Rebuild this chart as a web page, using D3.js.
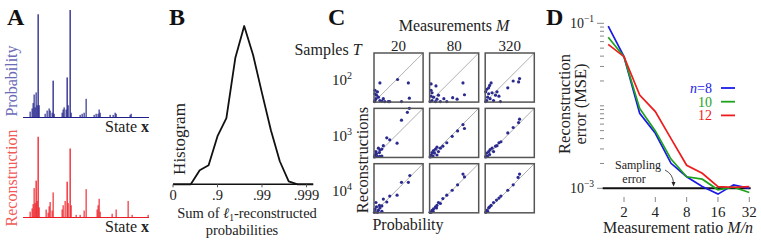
<!DOCTYPE html>
<html>
<head>
<meta charset="utf-8">
<script src="https://cdn.jsdelivr.net/npm/d3@7"></script>
<style>
  body { margin: 0; background: #fff; }
  svg { display: block; }
</style>
</head>
<body>
<div id="chart"></div>
<script>
// ---- data ----
// panel A: state index -> probability (scaled so the top peak is 1)
var probStates = [7, 9, 10, 11, 12, 13, 14, 15, 16, 22, 24, 26, 27, 29, 30, 31, 39, 40, 41, 43, 44, 45, 47, 48, 57, 59, 61, 63, 71, 73, 75, 76, 77, 87, 90, 92, 93, 107, 108];
var probValues = [0.05, 0.08, 0.13, 0.21, 0.09, 0.23, 0.11, 0.96, 0.11, 0.03, 0.06, 0.08, 0.06, 0.04, 0.34, 0.03, 0.04, 0.07, 0.09, 0.07, 0.37, 0.11, 1.00, 0.04, 0.02, 0.03, 0.04, 0.17, 0.02, 0.03, 0.03, 0.07, 0.04, 0.02, 0.02, 0.04, 0.03, 0.02, 0.03];
var reconStates = [7, 9, 10, 11, 12, 13, 14, 15, 16, 23, 25, 26, 27, 29, 30, 39, 40, 42, 44, 45, 47, 48, 53, 57, 61, 63, 74, 75, 76, 77, 89, 93, 105, 109, 125];
var reconValues = [0.05, 0.08, 0.12, 0.27, 0.13, 0.34, 0.15, 0.75, 0.09, 0.07, 0.04, 0.10, 0.14, 0.06, 0.23, 0.07, 0.11, 0.15, 0.33, 0.13, 0.64, 0.11, 0.02, 0.02, 0.06, 0.26, 0.07, 0.11, 0.17, 0.05, 0.03, 0.07, 0.15, 0.02, 0.02];

// panel B: histogram of the sum, x in "number of nines"
var histK = [0, 0.4, 0.6, 0.8, 1.0, 1.2, 1.4, 1.6, 1.8, 2.0, 2.2, 2.4, 2.6, 2.8, 3.0, 3.15];
var histCounts = [0, 0, 14, 19, 48, 66, 126, 158, 129, 91, 54, 23, 3, 0, 0, 0];
var histTicks = [0, 1, 2, 3];
var histTickLabels = ["0", ".9", ".99", ".999"];

// panel C: scatter [probability, reconstruction] for each (T, M)
var measurements = ["20", "80", "320"];
var samplesExp = ["2", "3", "4"];
var sc_T2_M20 = [[0.12,0.39],[0.48,0.46],[0.70,0.39],[0.72,0.08],[0.56,0.01],[0.19,0.07],[0.29,0.01],[0.32,0.01],[0.02,0.24],[0.02,0.17],[0.05,0.14],[0.09,0.10],[0.04,0.07],[0.12,0.03],[0.02,0.03],[0.07,0.21],[0.22,0.01],[0.16,0.02],[0.01,0.01]];
var sc_T2_M80 = [[0.68,0.39],[0.71,0.15],[0.47,0.09],[0.56,0.06],[0.29,0.07],[0.13,0.33],[0.03,0.37],[0.03,0.24],[0.05,0.19],[0.03,0.12],[0.08,0.10],[0.15,0.06],[0.18,0.14],[0.22,0.01],[0.05,0.03],[0.12,0.01],[0.35,0.01],[0.01,0.01]];
var sc_T2_M320 = [[0.70,0.48],[0.68,0.41],[0.57,0.43],[0.46,0.29],[0.12,0.39],[0.09,0.34],[0.07,0.29],[0.03,0.26],[0.01,0.21],[0.07,0.17],[0.14,0.19],[0.21,0.14],[0.28,0.12],[0.05,0.10],[0.10,0.07],[0.31,0.01],[0.03,0.03],[0.17,0.03],[0.24,0.21],[0.01,0.01]];
var sc_T3_M20 = [[0.72,1.00],[0.68,0.92],[0.56,0.76],[0.47,0.29],[0.32,0.36],[0.26,0.40],[0.19,0.24],[0.16,0.17],[0.12,0.15],[0.11,0.10],[0.16,0.03],[0.05,0.08],[0.02,0.05],[0.07,0.02],[0.01,0.01],[0.12,0.02],[0.04,0.12],[0.09,0.19]];
var sc_T3_M80 = [[0.68,0.67],[0.71,0.59],[0.57,0.54],[0.46,0.43],[0.27,0.23],[0.22,0.19],[0.15,0.21],[0.12,0.17],[0.08,0.14],[0.05,0.10],[0.03,0.05],[0.07,0.03],[0.01,0.01],[0.10,0.09],[0.18,0.12],[0.15,0.05],[0.35,0.30]];
var sc_T3_M320 = [[0.70,0.78],[0.68,0.71],[0.57,0.61],[0.46,0.50],[0.28,0.30],[0.21,0.23],[0.14,0.19],[0.10,0.16],[0.07,0.12],[0.03,0.09],[0.02,0.03],[0.05,0.02],[0.09,0.06],[0.17,0.12],[0.24,0.24],[0.32,0.32],[0.01,0.01]];
var sc_T4_M20 = [[0.73,0.76],[0.70,0.62],[0.56,0.62],[0.47,0.36],[0.32,0.34],[0.26,0.22],[0.19,0.28],[0.16,0.14],[0.12,0.10],[0.05,0.12],[0.04,0.21],[0.02,0.07],[0.09,0.05],[0.16,0.03],[0.01,0.01],[0.07,0.01],[0.11,0.15]];
var sc_T4_M80 = [[0.68,0.79],[0.71,0.73],[0.57,0.57],[0.46,0.46],[0.27,0.29],[0.18,0.21],[0.15,0.15],[0.12,0.12],[0.08,0.08],[0.05,0.05],[0.03,0.01],[0.07,0.03],[0.14,0.10],[0.22,0.19],[0.35,0.36],[0.01,0.01]];
var sc_T4_M320 = [[0.70,0.79],[0.67,0.72],[0.57,0.57],[0.46,0.46],[0.28,0.30],[0.23,0.26],[0.17,0.21],[0.12,0.15],[0.07,0.10],[0.03,0.05],[0.01,0.01],[0.09,0.12],[0.32,0.34],[0.05,0.03]];
var scatterGrid = [
  [sc_T2_M20, sc_T2_M80, sc_T2_M320],
  [sc_T3_M20, sc_T3_M80, sc_T3_M320],
  [sc_T4_M20, sc_T4_M80, sc_T4_M320]
];

// panel D: reconstruction error vs measurement ratio
var ratios = [1.41, 2, 2.83, 4, 5.66, 8, 11.3, 16, 22.6, 32];
var mse_n8  = [0.0927, 0.0394, 0.0081, 0.00465, 0.00201, 0.00138, 0.00105, 0.00085, 0.00110, 0.00100];
var mse_n10 = [0.0677, 0.0394, 0.0093, 0.00496, 0.00226, 0.00138, 0.00129, 0.00096, 0.00103, 0.00089];
var mse_n12 = [0.0555, 0.0394, 0.0135, 0.0085, 0.0040, 0.0019, 0.00152, 0.00105, 0.00103, 0.00105];
var seriesNames = ["8", "10", "12"];
var seriesColors = ["#1a1ae6", "#1ea31e", "#ee1c1c"];
var samplingError = 0.001;
var ratioTicks = [2, 4, 8, 16, 32];

// ---- svg ----
var svg = d3.select("#chart").append("svg")
  .attr("width", 761)
  .attr("height", 241)
  .attr("font-family", "'Liberation Serif', 'DejaVu Serif', serif")
  .attr("fill", "#222");

function panelLetter(t, x, y) {
  svg.append("text").attr("x", x).attr("y", y)
    .attr("font-size", 24).attr("font-weight", "bold").attr("fill", "#111")
    .text(t);
}
panelLetter("A", 7, 25);
panelLetter("B", 169, 25);
panelLetter("C", 328, 25);
panelLetter("D", 546, 25);

// ---- A ----
var xA = d3.scaleLinear().domain([0, 126]).range([23, 149]);

function stateBars(states, values, base, color, label, labelColor, labelY) {
  var y = d3.scaleLinear().domain([0, 1]).range([base, base - 107]);
  var g = svg.append("g");
  g.append("line")
    .attr("x1", xA(0)).attr("x2", xA(126))
    .attr("y1", base + 0.5).attr("y2", base + 0.5)
    .attr("stroke", color).attr("stroke-width", 1.2);
  g.selectAll("rect")
    .data(values)
    .enter()
    .append("rect")
      .attr("x", function(d, i) { return xA(states[i]) - 0.5; })
      .attr("y", function(d) { return y(d); })
      .attr("width", 1.3)
      .attr("height", function(d) { return base - y(d); })
      .attr("fill", color)
      .attr("opacity", function(d) { return d > 0.3 ? 1 : 0.85; });
  g.append("text")
    .attr("transform", "translate(17," + labelY + ") rotate(-90)")
    .attr("text-anchor", "middle")
    .attr("font-size", 16).attr("fill", labelColor)
    .text(label);
  var st = g.append("text").attr("x", 149).attr("y", base + 15)
    .attr("text-anchor", "end").attr("font-size", 16);
  st.append("tspan").text("State ");
  st.append("tspan").attr("font-weight", "bold").text("x");
}
stateBars(probStates, probValues, 117, "#20208a", "Probability", "#6b6bb8", 81);
stateBars(reconStates, reconValues, 217, "#ec1c24", "Reconstruction", "#f05a5a", 178);

// ---- B ----
var xB = d3.scaleLinear().domain([0, 3]).range([173, 306.5]);
var yB = d3.scaleLinear().domain([0, 158]).range([184.3, 26]);

svg.append("line")
  .attr("x1", xB(0)).attr("x2", xB(3.15))
  .attr("y1", yB(0)).attr("y2", yB(0))
  .attr("stroke", "#111").attr("stroke-width", 1.6);

svg.append("path")
  .datum(histCounts)
  .attr("fill", "none").attr("stroke", "#111").attr("stroke-width", 1.8)
  .attr("stroke-linejoin", "round")
  .attr("d", d3.line()
    .x(function(d, i) { return xB(histK[i]); })
    .y(function(d) { return yB(d); }));

svg.selectAll(".btick")
  .data(histTicks)
  .enter()
  .append("line")
    .attr("x1", function(d) { return xB(d); })
    .attr("x2", function(d) { return xB(d); })
    .attr("y1", yB(0)).attr("y2", yB(0) + 3)
    .attr("stroke", "#555").attr("stroke-width", 1);

svg.selectAll(".blabel")
  .data(histTicks)
  .enter()
  .append("text")
    .attr("x", function(d) { return xB(d); })
    .attr("y", 200)
    .attr("text-anchor", "middle")
    .attr("font-size", 14.5)
    .text(function(d, i) { return histTickLabels[i]; });

svg.append("text")
  .attr("transform", "translate(185,139) rotate(-90)")
  .attr("text-anchor", "middle").attr("font-size", 17)
  .text("Histogram");

var sumLabel = svg.append("text").attr("x", 247).attr("y", 217.5)
  .attr("text-anchor", "middle").attr("font-size", 14.5);
sumLabel.append("tspan").text("Sum of ");
sumLabel.append("tspan").attr("font-style", "italic").text("ℓ");
sumLabel.append("tspan").attr("dy", 3).attr("font-size", 9.5).text("1");
sumLabel.append("tspan").attr("dy", -3).text("-reconstructed");
svg.append("text").attr("x", 242).attr("y", 234.5)
  .attr("text-anchor", "middle").attr("font-size", 14.5)
  .text("probabilities");

// ---- C ----
var colBand = d3.scaleBand().domain(measurements).range([374, 534.3]).paddingInner(0.117);
var rowBand = d3.scaleBand().domain(samplesExp).range([53, 212.6]).paddingInner(0.117);
var unit = d3.scaleLinear().domain([0, 1]).range([0, colBand.bandwidth()]);

scatterGrid.forEach(function(row, r) {
  row.forEach(function(pts, c) {
    var bx = colBand(measurements[c]), by = rowBand(samplesExp[r]);
    var s = colBand.bandwidth();
    var g = svg.append("g").attr("transform", "translate(" + bx + "," + by + ")");
    g.append("line")
      .attr("x1", unit(0)).attr("y1", s - unit(0))
      .attr("x2", unit(1)).attr("y2", s - unit(1))
      .attr("stroke", "#9a9a9a").attr("stroke-width", 0.8);
    g.selectAll("circle")
      .data(pts)
      .enter()
      .append("circle")
        .attr("cx", function(d) { return unit(d[0]); })
        .attr("cy", function(d) { return s - unit(d[1]); })
        .attr("r", 1.6)
        .attr("fill", "#2b2b8f");
    g.append("rect")
      .attr("width", s).attr("height", s)
      .attr("fill", "none").attr("stroke", "#555").attr("stroke-width", 1.5);
  });
});

var mTitle = svg.append("text").attr("x", 454).attr("y", 31)
  .attr("text-anchor", "middle").attr("font-size", 16);
mTitle.append("tspan").text("Measurements ");
mTitle.append("tspan").attr("font-style", "italic").text("M");

svg.selectAll(".mlabel")
  .data(measurements)
  .enter()
  .append("text")
    .attr("x", function(d) { return colBand(d) + colBand.bandwidth() / 2; })
    .attr("y", 51)
    .attr("text-anchor", "middle").attr("font-size", 15)
    .text(function(d) { return d; });

var tTitle = svg.append("text").attr("x", 328).attr("y", 55)
  .attr("text-anchor", "middle").attr("font-size", 16);
tTitle.append("tspan").text("Samples ");
tTitle.append("tspan").attr("font-style", "italic").text("T");

samplesExp.forEach(function(e) {
  var t = svg.append("text")
    .attr("x", 352).attr("y", rowBand(e) + rowBand.bandwidth() / 2 + 8)
    .attr("text-anchor", "end").attr("font-size", 15);
  t.append("tspan").text("10");
  t.append("tspan").attr("dy", -6).attr("font-size", 10).text(e);
});

svg.append("text")
  .attr("transform", "translate(368,160) rotate(-90)")
  .attr("text-anchor", "middle").attr("font-size", 16.5)
  .text("Reconstructions");
svg.append("text").attr("x", 408).attr("y", 230)
  .attr("text-anchor", "middle").attr("font-size", 16)
  .text("Probability");

// ---- D ----
var xD = d3.scaleLog().base(2).domain([2, 32]).range([624, 749.3]);
var yD = d3.scaleLog().domain([0.001, 0.1]).range([188.3, 23.3]);

var yTicks = yD.ticks();
svg.selectAll(".dytick")
  .data(yTicks)
  .enter()
  .append("line")
    .attr("x1", function(d) { return (d === 0.1 || d === 0.001) ? 597 : 600; })
    .attr("x2", 604)
    .attr("y1", function(d) { return yD(d); })
    .attr("y2", function(d) { return yD(d); })
    .attr("stroke", "#888").attr("stroke-width", 1);

[["-1", 0.1], ["-3", 0.001]].forEach(function(p) {
  var t = svg.append("text").attr("x", 594).attr("y", yD(p[1]) + 5)
    .attr("text-anchor", "end").attr("font-size", 14);
  t.append("tspan").text("10");
  t.append("tspan").attr("dy", -6).attr("font-size", 9.5).text(p[0].replace("-", "\u2212"));
});

svg.selectAll(".dxtick")
  .data(ratioTicks)
  .enter()
  .append("line")
    .attr("x1", function(d) { return xD(d); })
    .attr("x2", function(d) { return xD(d); })
    .attr("y1", 197).attr("y2", 202)
    .attr("stroke", "#888").attr("stroke-width", 1);
svg.selectAll(".dxlabel")
  .data(ratioTicks)
  .enter()
  .append("text")
    .attr("x", function(d) { return xD(d); })
    .attr("y", 217)
    .attr("text-anchor", "middle").attr("font-size", 15)
    .text(function(d) { return d; });

var mnLabel = svg.append("text").attr("x", 678).attr("y", 233)
  .attr("text-anchor", "middle").attr("font-size", 16);
mnLabel.append("tspan").text("Measurement ratio ");
mnLabel.append("tspan").attr("font-style", "italic").text("M/n");

svg.append("text")
  .attr("transform", "translate(570,104) rotate(-90)")
  .attr("text-anchor", "middle").attr("font-size", 16.5)
  .text("Reconstruction");
svg.append("text")
  .attr("transform", "translate(586,104) rotate(-90)")
  .attr("text-anchor", "middle").attr("font-size", 16.5)
  .text("error (MSE)");

// sampling error line
svg.append("line")
  .attr("x1", 602.7).attr("x2", xD(33))
  .attr("y1", yD(samplingError)).attr("y2", yD(samplingError))
  .attr("stroke", "#111").attr("stroke-width", 2);

var mseLine = d3.line()
  .x(function(d, i) { return xD(ratios[i]); })
  .y(function(d) { return yD(d); });

[mse_n8, mse_n10, mse_n12].forEach(function(s, i) {
  svg.append("path")
    .datum(s)
    .attr("fill", "none")
    .attr("stroke", seriesColors[i])
    .attr("stroke-width", 1.7)
    .attr("d", mseLine);
});

// legend
seriesNames.forEach(function(n, i) {
  var y = 88 + i * 13.7;
  var t = svg.append("text").attr("x", 712).attr("y", y + 5)
    .attr("text-anchor", "end").attr("font-size", 14)
    .attr("fill", seriesColors[i]);
  if (i === 0) {
    t.append("tspan").attr("font-style", "italic").text("n");
    t.append("tspan").text("=" + n);
  } else {
    t.text(n);
  }
  svg.append("line")
    .attr("x1", 721).attr("x2", 735)
    .attr("y1", y).attr("y2", y)
    .attr("stroke", seriesColors[i]).attr("stroke-width", 1.8);
});

// annotation
svg.append("text").attr("x", 638).attr("y", 168.5)
  .attr("text-anchor", "middle").attr("font-size", 12).text("Sampling");
svg.append("text").attr("x", 634).attr("y", 183)
  .attr("text-anchor", "middle").attr("font-size", 12).text("error");
svg.append("path")
  .attr("d", "M665,170 Q673,174 673.5,183")
  .attr("fill", "none").attr("stroke", "#222").attr("stroke-width", 0.8);
svg.append("path")
  .attr("d", "M671.5,182 L673.6,186.5 L675.5,182 Z")
  .attr("fill", "#222");
</script>
</body>
</html>
